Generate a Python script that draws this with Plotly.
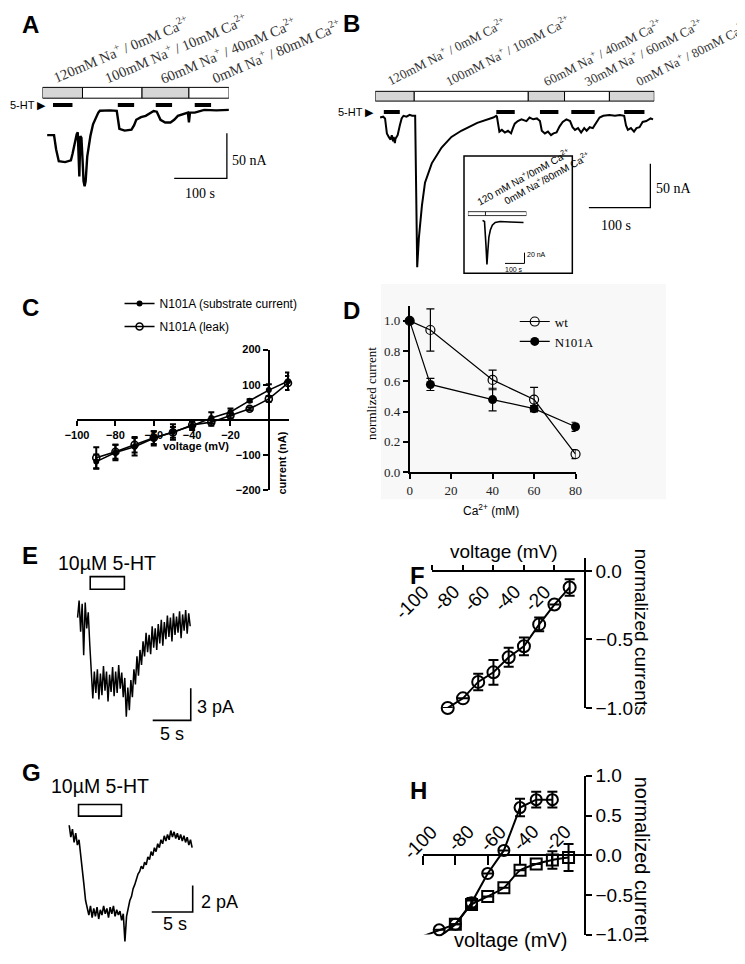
import plotly.graph_objects as go

W, H = 745, 964
OFF = 8  # the page places the figure 8 px from the window corner
def fx(p): return (p - OFF) / W
def fy(p): return 1 - (p - OFF) / H

SANS = "Liberation Sans, Arial, sans-serif"
SERIF = "Liberation Serif, Times New Roman, serif"

# ---------------- DATA ----------------
# Panel A: recording (time s, current nA)
A_t = [9, 22, 26, 31, 43, 54, 57, 61, 65, 67, 70, 72, 74, 76, 78, 80, 82, 85, 91, 96, 102, 106, 109, 128, 141, 143,
       146, 156, 169, 174, 178, 187, 196, 211, 217, 224, 233, 243, 250, 257, 276, 278, 280, 289, 307, 330, 354]
A_i = [-29, -29, -45, -58, -59, -57, -50, -38, -28, -26, -75, -30, -32, -55, -80, -86, -80, -53, -30, -17, -8, -4, -2,
       -1.5, -2, -12, -22, -24, -23, -18, -12, -9, -7.6, -2.2, -3, -12, -15, -15, -12, -7.6, -4, -15, -4, -4, -1, -1.5, -1]
A_solutions = ["120mM Na<sup>+</sup> / 0mM Ca<sup>2+</sup>", "100mM Na<sup>+</sup> / 10mM Ca<sup>2+</sup>",
               "60mM Na<sup>+</sup> / 40mM Ca<sup>2+</sup>", "0mM Na<sup>+</sup> / 80mM Ca<sup>2+</sup>"]
A_sol_start = [0, 76, 189, 278]
A_sol_end = [76, 189, 278, 354]
A_ht_start = [20, 143, 215, 289]
A_ht_end = [57, 174, 246, 320]

# Panel B
B_t = [8, 13, 16, 17.5, 19, 22, 25, 27, 29, 30, 32, 33, 36.5, 40, 43, 46, 51, 56, 60, 65, 66.7, 68.3, 71, 76, 81, 92,
       108, 124, 140, 166, 192, 197, 198, 200, 202, 206, 211, 216, 221, 224, 227, 232, 238, 246, 251, 257, 263, 268,
       271, 276, 281, 286, 290, 295, 300, 305, 311, 317, 321, 325, 330, 335, 340, 344, 349, 354, 359, 365, 371, 381,
       390, 398, 405, 408, 411, 416, 421, 425, 430, 435, 441, 448, 452]
B_i = [-2, -1, -3, -11, -20, -24, -27, -22, -29, -24, -31, -26, -22, -11, -3, 0, -1, 1, 0, 0, -102, -172, -139, -102,
       -76, -54, -36, -24, -17, -8, -2, 0, -1, -13, -18, -16, -19, -17, -20, -14, -9, -6, -4, -6, -2, -4, -3, -6, -17,
       -20, -18, -22, -20, -19, -12, -7, -4, -6, -13, -16, -14, -19, -14, -17, -13, -14, -8, -2, 0, 1, 0, 1, 0, -11,
       -16, -14, -18, -14, -13, -7, -6, -3, -4]
B_solutions = ["120mM Na<sup>+</sup> / 0mM Ca<sup>2+</sup>", "100mM Na<sup>+</sup> / 10mM Ca<sup>2+</sup>",
               "60mM Na<sup>+</sup> / 40mM Ca<sup>2+</sup>", "30mM Na<sup>+</sup> / 60mM Ca<sup>2+</sup>",
               "0mM Na<sup>+</sup> / 80mM Ca<sup>2+</sup>"]
B_sol_start = [0, 63.5, 249, 308, 381]
B_sol_end = [63.5, 249, 308, 381, 454]
B_ht_start = [14, 197, 268, 319, 405]
B_ht_end = [40, 227, 298, 357, 438]

# Inset of B
IN_t = [75, 85, 92.5, 97.5, 102.5, 107.5, 115, 125, 140, 165, 215, 285]
IN_i = [2, 0, -44, -80, -53, -29, -16, -7, -2, 0, -1, -2]
IN_solutions = ["120 mM Na<sup>+</sup>/0mM Ca<sup>2+</sup>", "0mM Na<sup>+</sup>/80mM Ca<sup>2+</sup>"]
IN_sol_start = [0, 90]
IN_sol_end = [90, 300]

# Panel C: I-V of N101A
C_v = [-90, -80, -70, -60, -50, -40, -30, -20, -10, 0, 10]
C_sub = [-118, -92, -76, -52, -34, -16, 6, 23, 55, 85, 110]
C_sub_err = [20, 22, 25, 20, 22, 12, 16, 10, 4, 17, 25]
C_leak = [-107, -90, -70, -50, -35, -14, -6, 13, 32, 60, 105]
C_leak_err = [30, 20, 22, 18, 15, 10, 10, 8, 4, 8, 20]
C_xticks = [-100, -80, -60, -40, -20]
C_yticks = [-200, -100, 100, 200]

# Panel D: Ca2+ dependence
D_ca = [0, 10, 40, 60, 80]
D_wt = [1.0, 0.94, 0.61, 0.48, 0.12]
D_wt_err = [0, 0.14, 0.065, 0.08, 0.03]
D_mut = [1.0, 0.58, 0.48, 0.42, 0.30]
D_mut_err = [0, 0.04, 0.075, 0.02, 0.03]
D_xticks = [0, 20, 40, 60, 80]
D_yticks = [0.0, 0.2, 0.4, 0.6, 0.8, 1.0]

# Panel E: recording (s, pA)
E_t = [0.9, 1.1, 1.3, 1.5, 1.7, 1.9, 2.1, 2.3, 2.5, 2.7, 2.9, 3.1, 3.3, 3.5, 3.7, 3.9, 4.1, 4.3, 4.5, 4.7,
       4.9, 5.1, 5.3, 5.5, 5.7, 5.9, 6.1, 6.3, 6.5, 6.7, 6.9, 7.1, 7.3, 7.5, 7.7, 7.9, 8.1, 8.3, 8.5, 8.7,
       8.9, 9.1, 9.3, 9.5, 9.7, 9.9, 10.1, 10.3, 10.5, 10.7, 10.9, 11.1, 11.3, 11.5, 11.7, 11.9, 12.1, 12.3, 12.5, 12.7,
       12.9, 13.1, 13.3, 13.5, 13.7, 13.9, 14.1, 14.3, 14.5, 14.7, 14.9, 15.1, 15.3, 15.5, 15.7]
E_i = [-1.0, 0.6, -2.3, 0.3, -4.5, 0.4, -2.0, -0.5, -3.5, -6.5, -8.5, -6.0, -8.0, -5.8, -8.6, -6.2, -8.2, -5.5, -7.8, -6.0,
       -8.8, -6.3, -7.9, -5.6, -8.3, -6.0, -8.0, -5.4, -7.6, -6.1, -8.4, -6.6, -10.2, -7.5, -9.6, -6.8, -8.4, -5.8, -7.2, -4.6,
       -6.4, -4.0, -5.4, -3.2, -4.6, -2.4, -4.2, -2.6, -4.4, -1.8, -3.8, -2.0, -4.0, -1.6, -3.4, -1.2, -3.6, -1.4, -3.0, -0.8,
       -2.8, -1.0, -3.2, -0.6, -2.6, -0.9, -2.4, -0.4, -2.9, -0.7, -2.2, -0.3, -2.5, -0.6, -1.8]
E_app = [2.56, 7.05]

# Panel F: normalized I-V
F_v = [-90, -80, -70, -60, -50, -40, -30, -20, -10]
F_i = [-1.0, -0.93, -0.81, -0.74, -0.63, -0.55, -0.39, -0.245, -0.12]
F_err = [0, 0, 0.06, 0.09, 0.07, 0.065, 0.05, 0, 0.06]
F_xticks = [-100, -80, -60, -40, -20]
F_yticks = [0.0, -0.5, -1.0]

# Panel G: recording (s, pA)
G_t = [1.0, 1.2, 1.4, 1.6, 1.8, 2.0, 2.2, 2.4, 2.6, 2.8, 3.0, 3.2, 3.4, 3.6, 3.8, 4.0, 4.2, 4.4, 4.6, 4.8,
       5.0, 5.2, 5.4, 5.6, 5.8, 6.0, 6.2, 6.4, 6.6, 6.8, 7.0, 7.2, 7.4, 7.6, 7.8, 8.0, 8.2, 8.4, 8.6, 8.8,
       9.0, 9.2, 9.4, 9.6, 9.8, 10.0, 10.2, 10.4, 10.6, 10.8, 11.0, 11.2, 11.4, 11.6, 11.8, 12.0, 12.2, 12.4, 12.6, 12.8,
       13.0, 13.2, 13.4, 13.6, 13.8, 14.0, 14.2, 14.4, 14.6, 14.8, 15.0, 15.2, 15.4, 15.6, 15.8, 16.0]
G_i = [0.5, -0.4, 0.2, -0.8, -0.1, -1.0, -0.6, -1.6, -2.8, -4.0, -5.2, -5.9, -6.3, -5.6, -6.5, -5.8, -6.4, -5.7, -6.6, -5.9,
       -6.3, -5.6, -6.2, -5.8, -6.5, -5.7, -6.2, -5.6, -6.4, -5.9, -6.3, -6.0, -6.7, -6.2, -8.3, -6.4, -5.8, -5.2, -4.9, -4.3,
       -4.0, -3.5, -3.2, -3.0, -2.6, -2.8, -2.3, -2.5, -1.9, -2.1, -1.5, -1.8, -1.2, -1.5, -0.9, -1.2, -0.6, -0.9, -0.3, -0.7,
       -0.2, -0.6, 0.1, -0.4, 0.0, -0.5, -0.1, -0.6, -0.2, -0.7, -0.3, -0.8, -0.4, -1.0, -0.6, -1.2]
G_app = [2.14, 7.38]

# Panel H: normalized I-V, two conditions
H_v_c = [-100, -90, -80, -70, -60, -50, -40, -30, -20]
H_c = [-1.02, -0.94, -0.87, -0.6, -0.23, 0.06, 0.6, 0.7, 0.7]
H_c_err = [0, 0, 0, 0.06, 0, 0, 0.11, 0.1, 0.1]
H_v_s = [-90, -80, -70, -60, -50, -40, -30, -20, -10]
H_s = [-1.03, -0.87, -0.62, -0.52, -0.41, -0.19, -0.11, -0.06, -0.03]
H_s_err = [0, 0, 0.05, 0, 0, 0, 0, 0.11, 0.17]
H_xticks = [-100, -80, -60, -40, -20]
H_yticks = [1.0, 0.5, 0.0, -0.5, -1.0]

# scale bars (t0, I0, dt, dI)
SB_A = (250, -77, 100, 50)
SB_B = (347.6, -104.4, 100, 50)
SB_IN = (190, -78, 100, 20)
SB_E = (10.77, -10.55, 5, 3)
SB_G = (11.07, -6.07, 5, 2)

# ---------------- FIGURE ----------------
fig = go.Figure()
BLK = "black"
GRAY = "#d6d6d6"

def line_trace(x, y, ax, w=2.0):
    fig.add_trace(go.Scatter(x=x, y=y, mode="lines", line=dict(color=BLK, width=w),
                             xaxis="x" + ax, yaxis="y" + ax, showlegend=False, hoverinfo="skip"))

def scalebar(sb, ax, w=1.5):
    t0, i0, dt, di = sb
    line_trace([t0, t0 + dt, t0 + dt], [i0, i0, i0 + di], ax, w)

line_trace(A_t, A_i, "", 2.4)
line_trace(B_t, B_i, "2", 2.0)
line_trace(IN_t, IN_i, "3", 1.6)
line_trace(E_t, E_i, "6", 1.5)
line_trace(G_t, G_i, "8", 1.6)
scalebar(SB_A, "", 1.3)
scalebar(SB_B, "2", 1.3)
scalebar(SB_IN, "3", 1.0)
scalebar(SB_E, "6", 1.6)
scalebar(SB_G, "8", 1.6)

# Panel C
fig.add_trace(go.Scatter(x=C_v, y=C_sub, mode="lines+markers", name="N101A (substrate current)",
                         line=dict(color=BLK, width=1.6), marker=dict(symbol="circle", size=6, color=BLK),
                         error_y=dict(type="data", array=C_sub_err, color=BLK, thickness=2, width=3),
                         xaxis="x4", yaxis="y4", legend="legend", legendgroup="c1", cliponaxis=False))
fig.add_trace(go.Scatter(x=C_v, y=C_leak, mode="lines+markers", name="N101A (leak)",
                         line=dict(color=BLK, width=1.6),
                         marker=dict(symbol="circle-open", size=7, color=BLK, line=dict(width=1.6)),
                         error_y=dict(type="data", array=C_leak_err, color=BLK, thickness=2, width=3),
                         xaxis="x4", yaxis="y4", legend="legend", legendgroup="c2", cliponaxis=False))

# Panel D
fig.add_trace(go.Scatter(x=D_ca, y=D_wt, mode="lines+markers", name="wt",
                         line=dict(color=BLK, width=1.2),
                         marker=dict(symbol="circle-open", size=9, color=BLK, line=dict(width=1.2)),
                         error_y=dict(type="data", array=D_wt_err, color=BLK, thickness=1.2, width=4),
                         xaxis="x5", yaxis="y5", legend="legend2", cliponaxis=False))
fig.add_trace(go.Scatter(x=D_ca, y=D_mut, mode="lines+markers", name="N101A",
                         line=dict(color=BLK, width=1.2), marker=dict(symbol="circle", size=9, color=BLK),
                         error_y=dict(type="data", array=D_mut_err, color=BLK, thickness=1.2, width=4),
                         xaxis="x5", yaxis="y5", legend="legend2", cliponaxis=False))

# Panel F
fig.add_trace(go.Scatter(x=F_v, y=F_i, mode="lines+markers", line=dict(color=BLK, width=2),
                         marker=dict(symbol="circle-open", size=12, color=BLK, line=dict(width=2)),
                         error_y=dict(type="data", array=F_err, color=BLK, thickness=2, width=5),
                         xaxis="x7", yaxis="y7", showlegend=False, cliponaxis=False))

# Panel H
fig.add_trace(go.Scatter(x=H_v_c, y=H_c, mode="lines+markers", line=dict(color=BLK, width=2),
                         marker=dict(symbol="circle-open", size=11, color=BLK, line=dict(width=2)),
                         error_y=dict(type="data", array=H_c_err, color=BLK, thickness=2, width=5),
                         xaxis="x9", yaxis="y9", showlegend=False, cliponaxis=False))
fig.add_trace(go.Scatter(x=H_v_s, y=H_s, mode="lines+markers", line=dict(color=BLK, width=2, shape="spline", smoothing=0.5),
                         marker=dict(symbol="square-open", size=11, color=BLK, line=dict(width=2)),
                         error_y=dict(type="data", array=H_s_err, color=BLK, thickness=2, width=5),
                         xaxis="x9", yaxis="y9", showlegend=False, cliponaxis=False))

# ---------------- AXES ----------------
def hidden(d0, d1, r, anchor):
    return dict(domain=[d0, d1], range=r, visible=False, fixedrange=True, anchor=anchor)

lay = dict(width=W, height=H, margin=dict(l=0, r=0, t=0, b=0), autosize=False,
           paper_bgcolor="white", plot_bgcolor="rgba(0,0,0,0)")
lay["xaxis"] = hidden(fx(31), fx(222), [0, 353.7], "y")
lay["yaxis"] = hidden(fy(230), fy(8), [-140.2, 101.1], "x")
lay["xaxis2"] = hidden(fx(372), fx(658), [0, 454], "y2")
lay["yaxis2"] = hidden(fy(275), fy(8), [-185.6, 111.1], "x2")
lay["xaxis3"] = hidden(fx(467), fx(527), [0, 300], "y3")
lay["yaxis3"] = hidden(fy(269), fy(149), [-96.4, 121.8], "x3")
lay["xaxis6"] = hidden(fx(60), fx(190), [0, 16.67], "y6")
lay["yaxis6"] = hidden(fy(750), fy(560), [-12.73, 4.55], "x6")
lay["xaxis8"] = hidden(fx(50), fx(200), [0, 17.86], "y8")
lay["yaxis8"] = hidden(fy(960), fy(790), [-8.89, 3.7], "x8")

common = dict(showgrid=False, zeroline=False, showline=True, linecolor=BLK, ticks="outside",
              tickcolor=BLK, fixedrange=True)
boldf = dict(family=SANS, size=11, color=BLK, weight="bold")
lay["xaxis4"] = dict(common, domain=[fx(66.5), fx(284)], range=[-100, 10.7], anchor="free", position=fy(419),
                     linewidth=2, tickwidth=2, ticklen=5, tickvals=C_xticks, tickfont=boldf)
lay["yaxis4"] = dict(common, domain=[fy(491), fy(347)], range=[-200, 200], anchor="free", position=fx(263),
                     linewidth=2, tickwidth=2, ticklen=5, tickvals=C_yticks, tickfont=boldf)
serf = dict(family=SERIF, size=13, color="#222")
lay["xaxis5"] = dict(common, domain=[fx(407.3), fx(577.3)], range=[0, 80], anchor="y5",
                     linewidth=1.5, tickwidth=1.5, ticklen=5, tickvals=D_xticks, tickfont=serf)
lay["yaxis5"] = dict(common, domain=[fy(472.3), fy(302.2)], range=[0, 1.1], anchor="x5",
                     linewidth=1.5, tickwidth=1.5, ticklen=5, tickvals=D_yticks,
                     tickformat=".1f", tickfont=serf)
bigf = dict(family=SANS, size=19, color=BLK)
lay["xaxis7"] = dict(common, domain=[fx(430.7), fx(590)], range=[-100, 2], anchor="free", position=fy(573.3),
                     side="top", linewidth=2, tickwidth=2, ticklen=5, tickvals=F_xticks, showticklabels=False)
lay["yaxis7"] = dict(common, domain=[fy(713.3), fy(560)], range=[-1.0, 0.095], anchor="free", position=fx(586.7),
                     side="right", linewidth=2, tickwidth=2, ticklen=6, tickvals=F_yticks, tickformat=".1f",
                     tickfont=bigf)
lay["xaxis9"] = dict(common, domain=[fx(421), fx(586.7)], range=[-100, 0], anchor="free", position=fy(863.85),
                     linewidth=2, tickwidth=2, ticklen=9, tickvals=H_xticks, showticklabels=False)
lay["yaxis9"] = dict(common, domain=[fy(945), fy(782.7)], range=[-1.0, 1.0], anchor="free", position=fx(586.7),
                     side="right", linewidth=2, tickwidth=2, ticklen=6, tickvals=H_yticks, tickformat=".1f",
                     tickfont=bigf)

lay["legend"] = dict(x=fx(110), y=fy(285), xanchor="left", yanchor="top", bgcolor="rgba(0,0,0,0)",
                     font=dict(family=SANS, size=12, color=BLK), itemwidth=30, traceorder="grouped",
                     tracegroupgap=4)
lay["legend2"] = dict(x=fx(515), y=fy(303), xanchor="left", yanchor="top", bgcolor="rgba(0,0,0,0)",
                      font=dict(family=SERIF, size=13, color=BLK), itemwidth=30)

# ---------------- SHAPES ----------------
shapes = []
def rect(x0, x1, y0, y1, ax, fill, lw=1.0):
    shapes.append(dict(type="rect", xref="x" + ax, yref="y" + ax, x0=x0, x1=x1, y0=y0, y1=y1,
                       fillcolor=fill, line=dict(color=BLK, width=lw)))
def hline(x0, x1, y, ax, lw):
    shapes.append(dict(type="line", xref="x" + ax, yref="y" + ax, x0=x0, x1=x1, y0=y, y1=y,
                       line=dict(color=BLK, width=lw)))

for k, (s, e) in enumerate(zip(A_sol_start, A_sol_end)):
    rect(s, e, 12, 24, "", GRAY if k % 2 == 0 else "white")
for s, e in zip(A_ht_start, A_ht_end):
    hline(s, e, 4.3, "", 4)
B_fill = [GRAY, "white", GRAY, "white", GRAY]
for s, e, c in zip(B_sol_start, B_sol_end, B_fill):
    rect(s, e, 16.7, 27.8, "2", c)
for s, e in zip(B_ht_start, B_ht_end):
    hline(s, e, 4.2, "2", 4)
for s, e in zip(IN_sol_start, IN_sol_end):
    rect(s, e, 10.9, 18.2, "3", "white", 0.8)
rect(E_app[0], E_app[1], 1.64, 2.82, "6", "rgba(0,0,0,0)", 1.6)
rect(G_app[0], G_app[1], 1.19, 2.07, "8", "rgba(0,0,0,0)", 1.6)
# inset frame and panel D backdrop
shapes.append(dict(type="rect", xref="paper", yref="paper", x0=fx(463), x1=fx(574), y0=fy(269), y1=fy(149),
                   line=dict(color=BLK, width=1.5), fillcolor="rgba(0,0,0,0)"))
shapes.append(dict(type="rect", xref="paper", yref="paper", x0=fx(378), x1=fx(670), y0=fy(500), y1=fy(280),
                   line=dict(width=0), fillcolor="#f8f8f8", layer="below"))
lay["shapes"] = shapes

# ---------------- TEXT ----------------
ann = []
def txt(x, y, s, size, family=SANS, angle=0, xa="center", ya="middle", color=BLK, weight="normal"):
    ann.append(dict(x=fx(x), y=fy(y), xref="paper", yref="paper", text=s, showarrow=False,
                    font=dict(family=family, size=size, color=color, weight=weight), textangle=angle,
                    xanchor=xa, yanchor=ya))

for lab, (x, y) in zip("ABCDEFGH", [(8, 15), (337, 14), (8, 304), (337, 307), (8, 557), (406, 578), (8, 779), (406, 798)]):
    txt(x, y, lab, 24, SANS, 0, "left", weight="bold")

for s, (x, y) in zip(A_solutions, [(36, 80), (89, 80), (146, 81), (199, 80)]):
    txt(x, y, s, 14.5, SERIF, -23, "left", "bottom", "#333")
for s, (x, y) in zip(B_solutions, [(379, 82), (439, 83), (539, 83), (581, 83), (634, 83)]):
    txt(x, y, s, 13, SERIF, -27, "left", "bottom", "#333")
for s, (x, y) in zip(IN_solutions, [(471, 204), (499, 204)]):
    txt(x, y, s, 10, SANS, -29, "left", "bottom")

txt(37, 97, "5-HT \u25B6", 11, SANS, 0, "right")
txt(373, 104, "5-HT \u25B6", 11, SANS, 0, "right")
txt(223, 154, "50 nA", 14, SERIF, 0, "left")
txt(192, 187, "100 s", 14, SERIF)
txt(658, 182, "50 nA", 14, SERIF, 0, "left")
txt(619, 220, "100 s", 14, SERIF)
txt(526, 250, "20 nA", 7, SANS, 0, "left")
txt(514, 265, "100 s", 7, SANS)

txt(188, 446, "voltage (mV)", 11, SANS, weight="bold")
txt(277, 463, "current (nA)", 11, SANS, -90, weight="bold")
txt(368, 392, "normlized current", 13, SERIF, -90)
txt(491, 511, "Ca<sup>2+</sup> (mM)", 12, SANS)

txt(97, 565, "10\u00b5M 5-HT", 19.5)
txt(187, 712, "3 pA", 18, SANS, 0, "left")
txt(164, 740, "5 s", 18)
txt(90, 793, "10\u00b5M 5-HT", 19.5)
txt(191, 912, "2 pA", 18, SANS, 0, "left")
txt(167, 934, "5 s", 18)

txt(504, 553, "voltage (mV)", 19)
txt(645, 636, "normalized currents", 19, SANS, 90)
txt(511, 951, "voltage (mV)", 20)
txt(645, 868, "normalized current", 20, SANS, 90)

for v in F_xticks:
    ann.append(dict(x=v, y=0, xref="x7", yref="y7", text=str(v), showarrow=False, textangle=-45,
                    xanchor="right", yanchor="top", xshift=3, yshift=-8, font=bigf))
for v in H_xticks:
    long = len(str(v)) > 3
    ann.append(dict(x=v, y=0, xref="x9", yref="y9", text=str(v), showarrow=False, textangle=-45,
                    xanchor="center", yanchor="middle", xshift=-3 if long else 5, yshift=13 if long else 17,
                    font=bigf))
lay["annotations"] = ann

fig.update_layout(**lay)
fig.write_html("out.html")
